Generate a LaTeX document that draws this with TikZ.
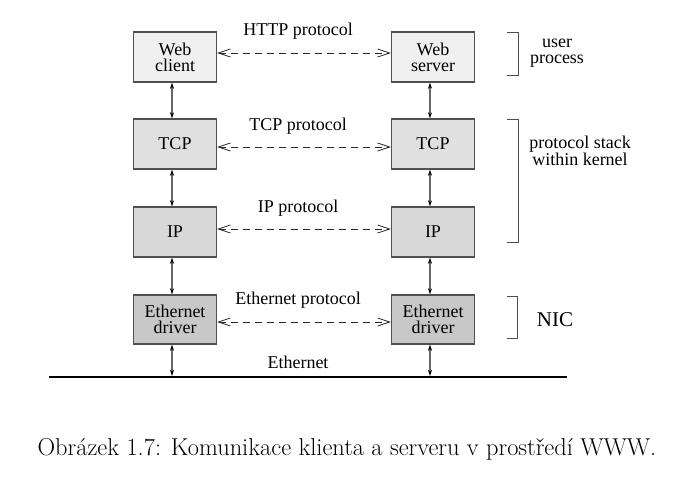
\documentclass[tikz,border=0pt]{standalone}
\usepackage{fontspec}
\newfontfamily\tms{Liberation Serif}
\usetikzlibrary{arrows.meta}
\definecolor{boxline}{HTML}{505050}
\definecolor{fillA}{HTML}{F0F0F0}
\definecolor{fillB}{HTML}{E0E0E0}
\definecolor{fillC}{HTML}{D8D8D8}
\definecolor{fillD}{HTML}{C8C8C8}
\tikzset{
  box/.style={draw=boxline, line width=1.4pt, minimum width=83pt, minimum height=50pt, inner sep=0pt, align=center, font=\tms\fontsize{18}{16}\selectfont},
  lbl/.style={inner sep=0pt, align=center, font=\tms\fontsize{18}{15.5}\selectfont},
  proto/.style={draw=black!85, line width=0.8pt, dash pattern=on 7pt off 5pt, {Straight Barb[length=12pt,width=8pt]}-{Straight Barb[length=12pt,width=8pt]}},
  vert/.style={draw=black!60, line width=1.3pt, {Stealth[length=6pt,width=4pt,black]}-{Stealth[length=6pt,width=4pt,black]}},
  brk/.style={draw=black!70, line width=1pt},
}
\begin{document}
\begin{tikzpicture}[x=1pt,y=-1pt]
\useasboundingbox[fill=white] (0,0) rectangle (693,479);
% boxes
\node[box, fill=fillA] (wc) at (175,57) {Web\\client};
\node[box, fill=fillA] (ws) at (433,57) {Web\\server};
\node[box, fill=fillB] (t1) at (175,144) {TCP};
\node[box, fill=fillB] (t2) at (433,144) {TCP};
\node[box, fill=fillC] (i1) at (175,232) {IP};
\node[box, fill=fillC] (i2) at (433,232) {IP};
\node[box, fill=fillD, minimum height=49pt] (e1) at (175,319.5) {Ethernet\\driver};
\node[box, fill=fillD, minimum height=49pt] (e2) at (433,319.5) {Ethernet\\driver};
% ethernet line
\coordinate (eL) at (49,377);
\coordinate (eR) at (567,377);
\draw[line width=2pt] (eL) -- (eR);
\coordinate (b1) at (172,376);
\coordinate (b2) at (430,376);
% protocol arrows
\draw[proto] ([yshift=4pt]wc.east) -- ([yshift=4pt]ws.west);
\draw[proto] ([yshift=-3pt]t1.east) -- ([yshift=-3pt]t2.west);
\draw[proto] ([yshift=3pt]i1.east) -- ([yshift=3pt]i2.west);
\draw[proto] ([yshift=-2.5pt]e1.east) -- ([yshift=-2.5pt]e2.west);
% vertical arrows
\draw[vert] ([xshift=-3pt]wc.south) -- ([xshift=-3pt]t1.north);
\draw[vert] ([xshift=-3pt]t1.south) -- ([xshift=-3pt]i1.north);
\draw[vert] ([xshift=-3pt]i1.south) -- ([xshift=-3pt]e1.north);
\draw[vert] ([xshift=-3pt]e1.south) -- (b1);
\draw[vert] ([xshift=-3pt]ws.south) -- ([xshift=-3pt]t2.north);
\draw[vert] ([xshift=-3pt]t2.south) -- ([xshift=-3pt]i2.north);
\draw[vert] ([xshift=-3pt]i2.south) -- ([xshift=-3pt]e2.north);
\draw[vert] ([xshift=-3pt]e2.south) -- (b2);
% labels
\node[lbl] (lh) at (298,31) {HTTP protocol};
\node[lbl] (lt) at (298,126) {TCP protocol};
\node[lbl] (li) at (298,208) {IP protocol};
\node[lbl] (le) at (298,300) {Ethernet protocol};
\node[lbl] (len) at (298,362) {Ethernet};
% brackets
\draw[brk] (507,32) -- (518,32) -- (518,75) -- (507,75);
\draw[brk] (507,119) -- (518,119) -- (518,242) -- (507,242);
\draw[brk] (507,296) -- (517,296) -- (517,338) -- (507,338);
\node[lbl] (up) at (557,53) {user\\process};
\node[lbl] (ps) at (580,151) {protocol stack\\within kernel};
\node[lbl, font=\tms\fontsize{21}{21}\selectfont] (nic) at (555,320) {NIC};
% caption
\node[inner sep=0pt, font=\fontsize{24.4}{28}\selectfont] (cap) at (347,449) {Obrázek 1.7: Komunikace klienta a serveru v prostředí WWW.};
\end{tikzpicture}
\end{document}
